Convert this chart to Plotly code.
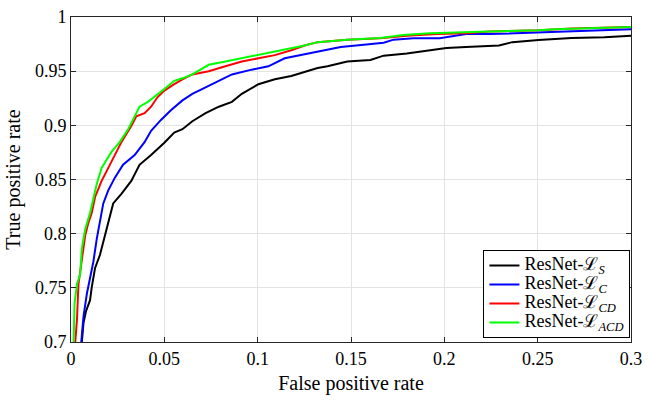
import plotly.graph_objects as go

# ResNet-L_S (black)
fpr_s = [0.0058, 0.0067, 0.0080, 0.0102, 0.0111, 0.0129, 0.0155, 0.0173, 0.0191, 0.0208, 0.0226,
         0.0270, 0.0323, 0.0367, 0.0429, 0.0500, 0.0553, 0.0597, 0.0650, 0.0721, 0.0792, 0.0862,
         0.0915, 0.1004, 0.1092, 0.1180, 0.1268, 0.1321, 0.1374, 0.1480, 0.1604, 0.1675, 0.1799,
         0.1923, 0.2011, 0.2117, 0.2293, 0.2364, 0.2505, 0.2682, 0.2858, 0.3000]
tpr_s = [0.7000, 0.7178, 0.7282, 0.7386, 0.7505, 0.7684, 0.7803, 0.7922, 0.8041, 0.8160, 0.8279,
         0.8368, 0.8487, 0.8636, 0.8726, 0.8840, 0.8934, 0.8964, 0.9038, 0.9112, 0.9172, 0.9217,
         0.9291, 0.9380, 0.9425, 0.9455, 0.9500, 0.9529, 0.9545, 0.9589, 0.9604, 0.9643, 0.9663,
         0.9693, 0.9714, 0.9723, 0.9737, 0.9768, 0.9788, 0.9806, 0.9812, 0.9827]

# ResNet-L_C (blue)
fpr_c = [0.0055, 0.0067, 0.0085, 0.0102, 0.0120, 0.0138, 0.0155, 0.0173, 0.0199, 0.0235, 0.0279,
         0.0341, 0.0394, 0.0429, 0.0482, 0.0535, 0.0597, 0.0650, 0.0721, 0.0792, 0.0862, 0.0968,
         0.1057, 0.1145, 0.1233, 0.1321, 0.1445, 0.1569, 0.1675, 0.1728, 0.1834, 0.1975, 0.2046,
         0.2117, 0.2240, 0.2329, 0.2505, 0.2682, 0.3000]
tpr_c = [0.7000, 0.7237, 0.7446, 0.7594, 0.7743, 0.7952, 0.8100, 0.8279, 0.8398, 0.8517, 0.8636,
         0.8726, 0.8845, 0.8949, 0.9050, 0.9140, 0.9230, 0.9291, 0.9351, 0.9411, 0.9470, 0.9514,
         0.9545, 0.9619, 0.9648, 0.9678, 0.9723, 0.9744, 0.9762, 0.9791, 0.9803, 0.9803, 0.9821,
         0.9842, 0.9842, 0.9848, 0.9857, 0.9872, 0.9887]

# ResNet-L_CD (red)
fpr_cd = [0.0023, 0.0032, 0.0040, 0.0058, 0.0076, 0.0093, 0.0111, 0.0129, 0.0164, 0.0191, 0.0226,
          0.0270, 0.0323, 0.0350, 0.0394, 0.0429, 0.0464, 0.0500, 0.0553, 0.0597, 0.0650, 0.0738,
          0.0827, 0.0915, 0.1004, 0.1092, 0.1180, 0.1251, 0.1321, 0.1480, 0.1657, 0.1799, 0.1958,
          0.2117, 0.2240, 0.2505, 0.2682, 0.3000]
tpr_cd = [0.7000, 0.7207, 0.7535, 0.7743, 0.7982, 0.8100, 0.8190, 0.8339, 0.8487, 0.8577, 0.8696,
          0.8845, 0.8994, 0.9083, 0.9112, 0.9172, 0.9261, 0.9321, 0.9380, 0.9425, 0.9470, 0.9500,
          0.9545, 0.9589, 0.9619, 0.9648, 0.9693, 0.9737, 0.9768, 0.9791, 0.9803, 0.9827, 0.9842,
          0.9851, 0.9866, 0.9878, 0.9893, 0.9907]

# ResNet-L_ACD (green)
fpr_acd = [0.0014, 0.0019, 0.0032, 0.0049, 0.0058, 0.0076, 0.0102, 0.0138, 0.0164, 0.0217, 0.0261,
           0.0306, 0.0341, 0.0367, 0.0412, 0.0447, 0.0500, 0.0553, 0.0597, 0.0650, 0.0738, 0.0827,
           0.0915, 0.1004, 0.1092, 0.1180, 0.1251, 0.1321, 0.1480, 0.1657, 0.1781, 0.1923, 0.2117,
           0.2240, 0.2505, 0.2593, 0.3000]
tpr_acd = [0.7000, 0.7357, 0.7535, 0.7625, 0.7862, 0.8041, 0.8190, 0.8458, 0.8607, 0.8755, 0.8845,
           0.8964, 0.9083, 0.9172, 0.9217, 0.9261, 0.9336, 0.9411, 0.9434, 0.9470, 0.9559, 0.9589,
           0.9619, 0.9648, 0.9678, 0.9708, 0.9737, 0.9768, 0.9791, 0.9806, 0.9833, 0.9851, 0.9857,
           0.9866, 0.9878, 0.9887, 0.9907]

subscripts = ["S", "C", "CD", "ACD"]
colors = ["#000000", "#0000ff", "#ff0000", "#00ff00"]
xtick_vals = [0, 0.05, 0.1, 0.15, 0.2, 0.25, 0.3]
xtick_text = ["0", "0.05", "0.1", "0.15", "0.2", "0.25", "0.3"]
ytick_vals = [0.7, 0.75, 0.8, 0.85, 0.9, 0.95, 1.0]
ytick_text = ["0.7", "0.75", "0.8", "0.85", "0.9", "0.95", "1"]

FONT = "Liberation Serif"
names = [f"<span style='font-size:18px'>ResNet-ℒ<sub><i>{s}</i></sub></span>" for s in subscripts]

fig = go.Figure()
for xs, ys, nm, c in zip([fpr_s, fpr_c, fpr_cd, fpr_acd], [tpr_s, tpr_c, tpr_cd, tpr_acd], names, colors):
    fig.add_trace(go.Scatter(x=xs, y=ys, mode="lines", name=nm,
                             line=dict(color=c, width=2)))

fig.update_layout(
    width=649, height=404,
    margin=dict(l=71, r=12, t=7, b=62),
    paper_bgcolor="white", plot_bgcolor="white",
    font=dict(family=FONT, color="#000000", size=18),
    showlegend=True,
    legend=dict(x=0.999, y=0.012, xanchor="right", yanchor="bottom",
                bgcolor="white", bordercolor="#000000", borderwidth=1,
                font=dict(family=FONT, size=12, color="#000000"),
                tracegroupgap=0, itemwidth=30),
)

for upd, rng, tv, tt, ttl in [(fig.update_xaxes, [0, 0.3], xtick_vals, xtick_text, "False positive rate"),
                               (fig.update_yaxes, [0.7, 1.0], ytick_vals, ytick_text, "True positive rate")]:
    upd(range=rng, tickmode="array", tickvals=tv, ticktext=tt,
        showgrid=True, gridcolor="#e3e3e3", gridwidth=1,
        showline=True, linecolor="#262626", linewidth=1, mirror="ticks",
        ticks="inside", ticklen=5, tickcolor="#262626",
        tickfont_family=FONT, tickfont_size=18, tickfont_color="#000000",
        ticklabeloverflow="allow",
        zeroline=False,
        title_text=ttl, title_font_family=FONT, title_font_size=20, title_standoff=8)

fig.write_html("out.html", config={"displayModeBar": False},
               post_script="document.body.style.margin='0';")
